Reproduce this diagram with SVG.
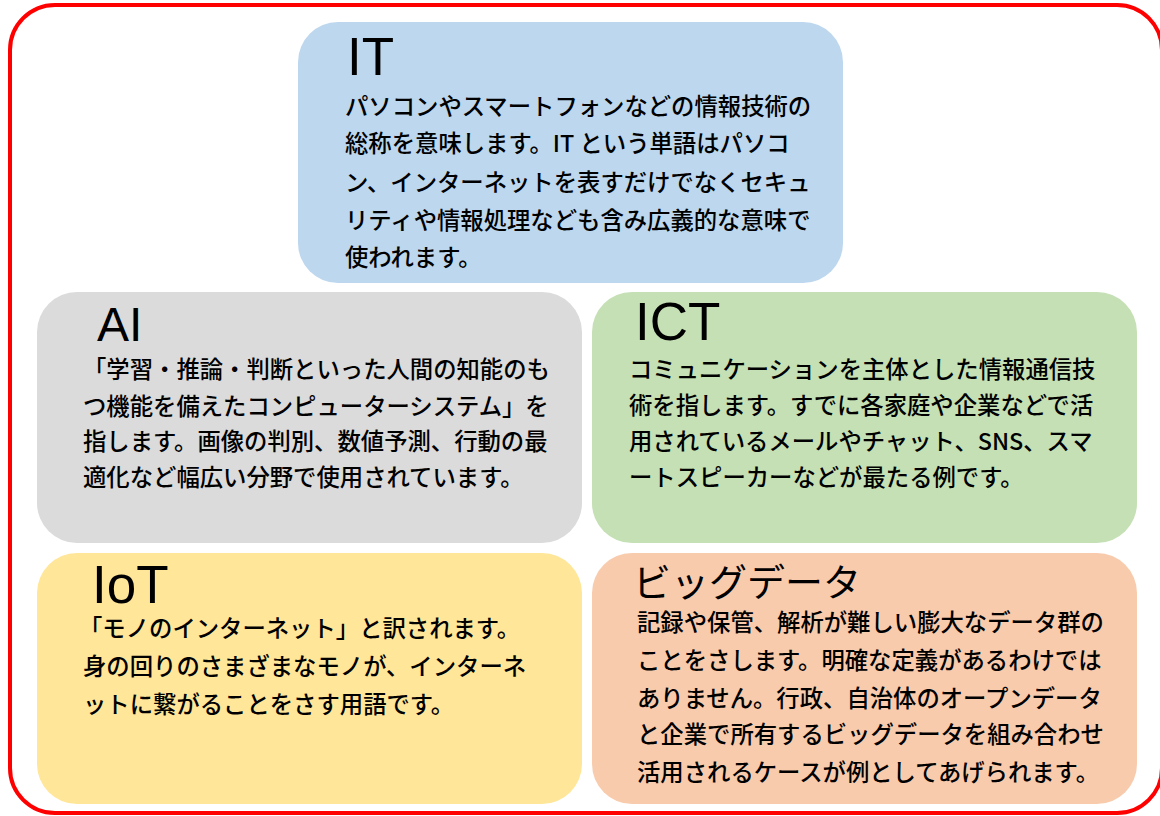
<svg xmlns="http://www.w3.org/2000/svg" width="1160" height="816" viewBox="0 0 1160 816">
<style>
.box{stroke:none}
.title{font-family:"Liberation Sans","Noto Sans CJK JP",sans-serif;font-weight:400;fill:#000}
.jtitle{font-family:"Noto Sans CJK JP",sans-serif;font-weight:400;font-size:38px;fill:#000}
.body{font-family:"Noto Sans CJK JP",sans-serif;font-weight:500;font-size:23.35px;fill:#000}
</style>
<rect x="0" y="0" width="1160" height="816" fill="#ffffff"/>
<rect x="10" y="5" width="1152" height="808" rx="45" ry="45" fill="none" stroke="#ff0000" stroke-width="4"/>
<g id="node-it">
<rect class="box" x="298" y="22" width="545" height="261" rx="40" fill="#BDD7EE"/>
<text class="title" x="347" y="75" font-size="53">IT</text>
<text class="body" x="345" y="115">パソコンやスマートフォンなどの情報技術の</text>
<text class="body" x="345" y="152">総称を意味します。IT という単語はパソコ</text>
<text class="body" x="345" y="191">ン、インターネットを表すだけでなくセキュ</text>
<text class="body" x="345" y="229">リティや情報処理なども含み広義的な意味で</text>
<text class="body" x="345" y="266">使われます。</text>
</g>
<g id="node-ai">
<rect class="box" x="37" y="292" width="545" height="251" rx="40" fill="#DBDBDB"/>
<text class="title" x="97" y="341" font-size="48">AI</text>
<text class="body" x="83" y="378">「学習・推論・判断といった人間の知能のも</text>
<text class="body" x="83" y="415">つ機能を備えたコンピューターシステム」を</text>
<text class="body" x="83" y="450">指します。画像の判別、数値予測、行動の最</text>
<text class="body" x="83" y="486">適化など幅広い分野で使用されています。</text>
</g>
<g id="node-ict">
<rect class="box" x="592" y="292" width="545" height="251" rx="40" fill="#C5E0B4"/>
<text class="title" x="635" y="340" font-size="53">ICT</text>
<text class="body" x="629" y="378">コミュニケーションを主体とした情報通信技</text>
<text class="body" x="629" y="414">術を指します。すでに各家庭や企業などで活</text>
<text class="body" x="629" y="450">用されているメールやチャット、SNS、スマ</text>
<text class="body" x="629" y="486">ートスピーカーなどが最たる例です。</text>
</g>
<g id="node-iot">
<rect class="box" x="37" y="553" width="545" height="251" rx="40" fill="#FFE699"/>
<text class="title" x="92" y="603" font-size="53">IoT</text>
<text class="body" x="79" y="637">「モノのインターネット」と訳されます。</text>
<text class="body" x="83" y="675">身の回りのさまざまなモノが、インターネ</text>
<text class="body" x="83" y="713">ットに繋がることをさす用語です。</text>
</g>
<g id="node-bigdata">
<rect class="box" x="592" y="553" width="545" height="251" rx="40" fill="#F8CBAD"/>
<text class="jtitle" x="633" y="596">ビッグデータ</text>
<text class="body" x="637" y="631">記録や保管、解析が難しい膨大なデータ群の</text>
<text class="body" x="637" y="669">ことをさします。明確な定義があるわけでは</text>
<text class="body" x="637" y="707">ありません。行政、自治体のオープンデータ</text>
<text class="body" x="637" y="743">と企業で所有するビッグデータを組み合わせ</text>
<text class="body" x="637" y="781">活用されるケースが例としてあげられます。</text>
</g>
<g id="connectors"></g>
</svg>
